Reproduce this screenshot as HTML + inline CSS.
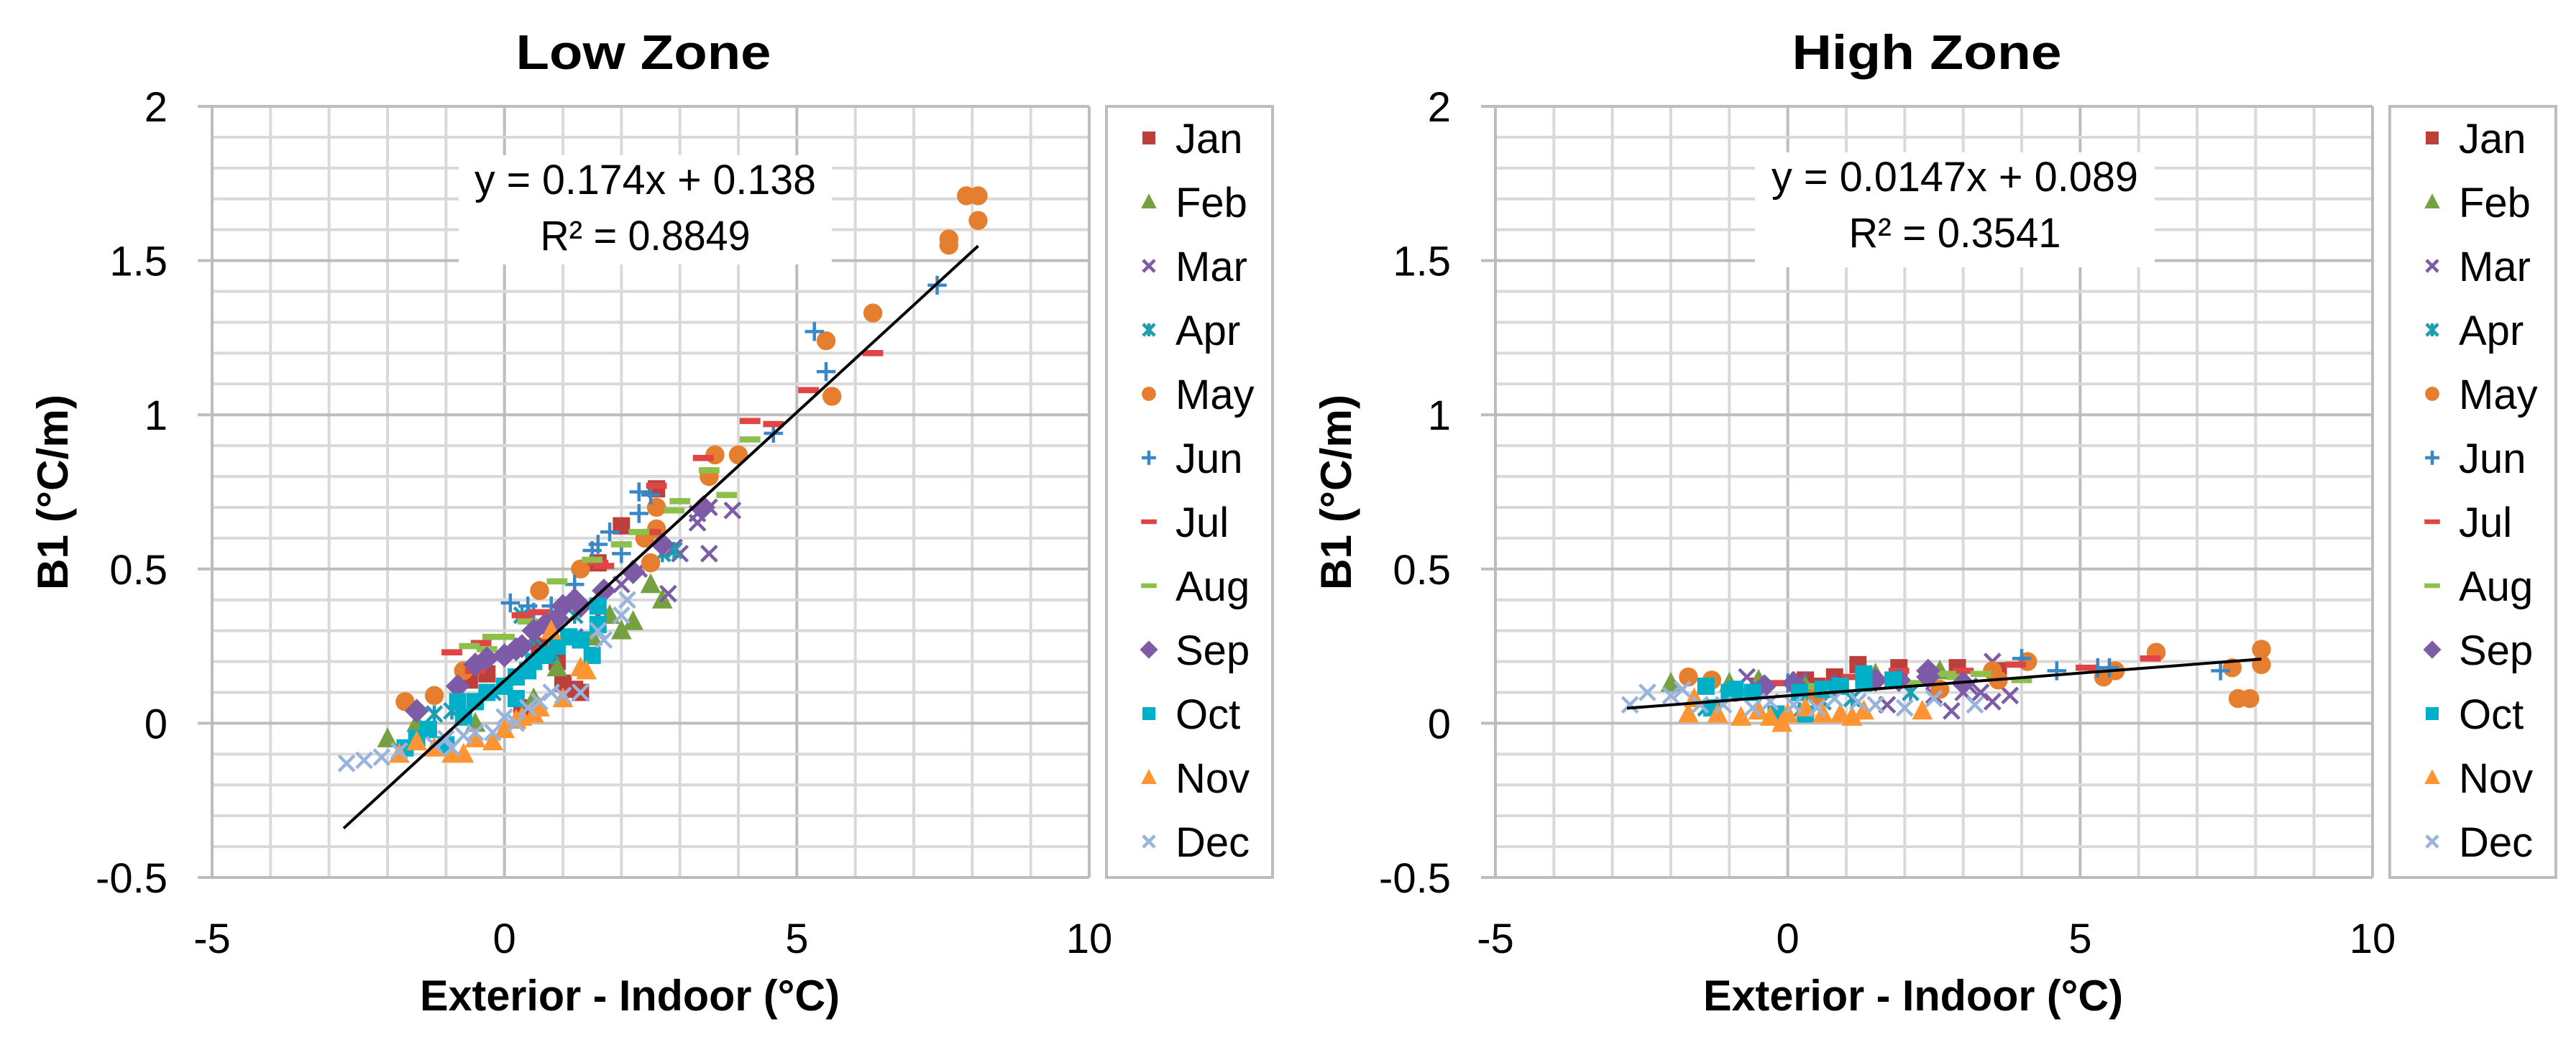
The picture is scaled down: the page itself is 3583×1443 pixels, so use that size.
<!DOCTYPE html>
<html><head><meta charset="utf-8"><style>
html,body{margin:0;padding:0;background:#fff;}
svg{display:block;font-family:"Liberation Sans",sans-serif;}
</style></head><body>
<svg id="fig" width="3583" height="1443" viewBox="0 0 3583 1443" xmlns="http://www.w3.org/2000/svg"></svg>
<script>
const months = ["Jan","Feb","Mar","Apr","May","Jun","Jul","Aug","Sep","Oct","Nov","Dec"];
const xTicks = [-5,0,5,10];
const yTicks = [2,1.5,1,0.5,0,-0.5];
const xTickLabels = ["-5","0","5","10"];
const yTickLabels = ["2","1.5","1","0.5","0","-0.5"];
const lowTrend = [0.174, 0.138];
const highTrend = [0.0147, 0.089];
const trendRange = [-2.75, 8.1];
const lowEq = ["y = 0.174x + 0.138","R² = 0.8849"];
const highEq = ["y = 0.0147x + 0.089","R² = 0.3541"];

const lowJan = [[-0.6,0.14],[0.3,0.05],[1.0,0.13],[1.2,0.11],[1.3,0.10],[0.6,0.25],[1.6,0.52],[2.0,0.64],[2.6,0.76],[0.9,0.20],[-0.3,0.16]];
const lowFeb = [[-2.0,-0.05],[-1.5,0.0],[2.0,0.30],[2.2,0.33],[2.5,0.45],[2.7,0.40],[1.8,0.35],[0.9,0.18],[-0.5,0.0],[1.5,0.28],[0.5,0.08]];
const lowMar = [[2.8,0.42],[3.0,0.55],[3.5,0.55],[3.3,0.65],[3.5,0.70],[3.9,0.69],[2.0,0.45],[2.3,0.50],[1.6,0.35],[3.3,0.68],[2.9,0.57],[1.2,0.28]];
const lowApr = [[-0.9,0.04],[0.3,0.35],[2.7,0.55],[2.9,0.56],[1.2,0.35],[0.5,0.28],[-0.2,0.10],[-1.2,0.03],[0.8,0.23]];
const lowMay = [[-1.7,0.07],[-1.2,0.09],[0.6,0.43],[1.3,0.50],[2.5,0.52],[2.6,0.63],[2.6,0.70],[3.5,0.80],[3.6,0.87],[4.0,0.87],[5.5,1.24],[5.6,1.06],[6.3,1.33],[7.6,1.55],[7.6,1.57],[7.9,1.71],[8.1,1.71],[8.1,1.63],[2.4,0.60],[-0.7,0.17]];
const lowJun = [[0.1,0.39],[0.4,0.38],[1.2,0.45],[1.6,0.58],[1.8,0.62],[2.3,0.75],[2.5,0.74],[2.3,0.68],[0.8,0.38],[4.6,0.94],[5.3,1.27],[5.5,1.14],[7.4,1.42],[2.0,0.55],[1.5,0.56],[0.5,0.36]];
const lowJul = [[-0.9,0.23],[-0.5,0.17],[0.3,0.35],[1.6,0.52],[2.6,0.77],[3.4,0.86],[4.2,0.98],[4.6,0.97],[5.2,1.08],[6.3,1.20],[0.6,0.36],[-0.4,0.26],[1.7,0.51],[2.5,0.62]];
const lowAug = [[-0.6,0.25],[-0.2,0.28],[0.9,0.46],[1.5,0.53],[2.3,0.62],[2.9,0.69],[3.5,0.82],[3.8,0.74],[4.2,0.92],[3.0,0.72],[0.0,0.28],[-0.3,0.24],[2.0,0.58],[0.4,0.33]];
const lowSep = [[-1.5,0.04],[-0.8,0.12],[-0.5,0.19],[0.3,0.25],[0.0,0.22],[0.7,0.32],[1.3,0.38],[1.7,0.43],[2.2,0.49],[2.7,0.58],[3.4,0.70],[1.0,0.38],[0.2,0.24],[1.2,0.40],[-0.3,0.21],[0.5,0.30],[0.9,0.34]];
const lowOct = [[-1.7,-0.08],[-1.3,-0.02],[-0.8,0.07],[-0.5,0.07],[0.0,0.12],[0.2,0.15],[0.5,0.20],[0.9,0.25],[1.1,0.28],[1.6,0.32],[1.6,0.38],[0.2,0.08],[-1.0,-0.07],[-1.5,-0.05],[-0.3,0.10],[0.7,0.22],[1.3,0.27],[1.5,0.22],[0.4,0.17],[-0.7,0.02]];
const lowNov = [[-1.8,-0.10],[-1.2,-0.08],[-0.9,-0.10],[-0.5,-0.05],[0.0,-0.02],[0.3,0.02],[0.6,0.05],[1.0,0.08],[1.3,0.18],[-0.2,-0.06],[0.8,0.30],[-1.5,-0.06],[-0.7,-0.10],[0.5,0.03],[1.4,0.17],[0.2,0.01]];
const lowDec = [[-2.7,-0.13],[-2.4,-0.12],[-2.1,-0.11],[-1.8,-0.09],[-1.2,-0.07],[-0.9,-0.08],[-0.2,-0.03],[0.2,0.00],[0.6,0.07],[1.0,0.09],[1.3,0.10],[1.7,0.27],[2.0,0.35],[2.1,0.40],[0.4,0.05],[-0.5,-0.03],[-1.0,-0.05],[0.0,0.02],[0.8,0.10],[1.6,0.30],[-0.7,-0.04]];

const highJan = [[-0.5,0.12],[0.3,0.14],[1.2,0.19],[0.8,0.15],[1.9,0.18],[2.9,0.18],[3.6,0.17],[0.5,0.12]];
const highFeb = [[-2.0,0.13],[-0.5,0.14],[1.5,0.16],[2.6,0.17],[0.3,0.12],[-1.0,0.13]];
const highMar = [[-0.7,0.15],[2.8,0.04],[3.3,0.10],[3.5,0.20],[3.1,0.12],[3.8,0.09],[3.5,0.07],[1.7,0.06],[2.5,0.09],[3.0,0.10],[0.2,0.14]];
const highApr = [[0.2,0.04],[-1.4,0.05],[1.1,0.08],[2.1,0.10],[0.6,0.07]];
const highMay = [[-1.7,0.15],[-1.3,0.14],[0.5,0.09],[2.6,0.11],[3.6,0.14],[3.5,0.17],[4.1,0.20],[5.4,0.15],[5.6,0.17],[6.3,0.23],[7.6,0.18],[7.7,0.08],[7.9,0.08],[8.1,0.24],[8.1,0.19],[-0.9,0.10]];
const highJun = [[0.0,0.13],[4.0,0.21],[4.6,0.17],[5.3,0.18],[5.5,0.18],[7.4,0.17]];
const highJul = [[-0.2,0.13],[1.9,0.17],[3.0,0.17],[3.9,0.19],[5.1,0.18],[6.2,0.21],[1.1,0.15],[0.8,0.13]];
const highAug = [[0.5,0.12],[1.6,0.14],[2.7,0.16],[3.3,0.16],[4.0,0.14],[2.2,0.13],[2.9,0.15]];
const highSep = [[0.1,0.13],[1.5,0.14],[2.4,0.17],[2.4,0.15],[3.0,0.13],[-0.4,0.12],[0.8,0.12],[1.9,0.14]];
const highOct = [[-1.4,0.12],[-1.0,0.10],[-0.6,0.10],[0.2,0.10],[0.6,0.11],[1.3,0.16],[1.8,0.14],[-1.3,0.05],[-0.2,0.03],[0.3,0.03],[-0.9,0.11],[0.9,0.12],[1.3,0.13]];
const highNov = [[-1.7,0.03],[-1.2,0.03],[-0.8,0.02],[-0.3,0.02],[-0.1,0.00],[0.6,0.03],[1.3,0.04],[0.9,0.03],[2.3,0.04],[0.0,0.03],[-1.6,0.08],[-0.5,0.04],[0.3,0.05],[1.1,0.02]];
const highDec = [[-2.7,0.06],[-2.4,0.10],[-2.0,0.09],[-1.5,0.06],[-1.1,0.06],[-0.6,0.05],[0.1,0.06],[0.8,0.08],[1.5,0.06],[2.0,0.05],[3.2,0.06],[-1.8,0.11],[-0.3,0.07],[0.5,0.05],[1.2,0.07],[2.5,0.08]];

const lowSeries = [lowJan,lowFeb,lowMar,lowApr,lowMay,lowJun,lowJul,lowAug,lowSep,lowOct,lowNov,lowDec];
const highSeries = [highJan,highFeb,highMar,highApr,highMay,highJun,highJul,highAug,highSep,highOct,highNov,highDec];

const colors = ["#bc3f3c","#77a043","#7d5ba6","#1e9cb3","#e67e30","#3a87c8","#e04545","#8cc04b","#7d5ba6","#00b0c8","#ff9433","#98b4dd"];
const shapes = ["square","triangle","x","star","circle","plus","dash","dash","diamond","square","triangle","x"];

const NS = "http://www.w3.org/2000/svg";
const svg = document.getElementById("fig");
function mk(tag, attrs, parent){
  const e = document.createElementNS(NS, tag);
  for (const k in attrs) e.setAttribute(k, attrs[k]);
  (parent||svg).appendChild(e);
  return e;
}
function marker(g, shape, cx, cy, color, s){
  let e;
  if (shape==="square") e = mk("rect",{x:cx-s*0.5,y:cy-s*0.5,width:s,height:s,fill:color},g);
  else if (shape==="triangle") e = mk("polygon",{points:`${cx},${cy-s*0.65} ${cx-s*0.6},${cy+s*0.5} ${cx+s*0.6},${cy+s*0.5}`,fill:color},g);
  else if (shape==="circle") e = mk("circle",{cx:cx,cy:cy,r:s*0.55,fill:color},g);
  else if (shape==="diamond") e = mk("polygon",{points:`${cx},${cy-s*0.7} ${cx+s*0.7},${cy} ${cx},${cy+s*0.7} ${cx-s*0.7},${cy}`,fill:color},g);
  else if (shape==="dash") e = mk("rect",{x:cx-s*0.6,y:cy-s*0.18,width:s*1.2,height:s*0.36,fill:color},g);
  else if (shape==="plus") e = mk("path",{d:`M${cx-s*0.55},${cy}H${cx+s*0.55}M${cx},${cy-s*0.55}V${cy+s*0.55}`,stroke:color,"stroke-width":4.5,fill:"none"},g);
  else if (shape==="x") e = mk("path",{d:`M${cx-s*0.45},${cy-s*0.45}L${cx+s*0.45},${cy+s*0.45}M${cx+s*0.45},${cy-s*0.45}L${cx-s*0.45},${cy+s*0.45}`,stroke:color,"stroke-width":4.5,fill:"none"},g);
  else if (shape==="star") e = mk("path",{d:`M${cx-s*0.45},${cy-s*0.45}L${cx+s*0.45},${cy+s*0.45}M${cx+s*0.45},${cy-s*0.45}L${cx-s*0.45},${cy+s*0.45}M${cx},${cy-s*0.5}V${cy+s*0.5}`,stroke:color,"stroke-width":4.5,fill:"none"},g);
  return e;
}

function drawChart(ox, title, series, trend, eq, eqBox, key){
  const L = 295+ox, R = 1515+ox, T = 148, B = 1221;
  const sx = v => L + (v+5)*(R-L)/15;
  const sy = v => T + (2-v)*(B-T)/2.5;
  const g = mk("g",{});
  
  
  for (let i=-5;i<=10;i++){
    const major = (i%5===0);
    const ln = mk("line",{x1:sx(i),x2:sx(i),y1:T,y2:B,stroke:major?"#bdbdbd":"#d9d9d9","stroke-width":4},g);
    
    
  }
  for (let j=-5;j<=20;j++){
    const v = j/10, major = (j%5===0);
    const ln = mk("line",{x1:major?L-20:L,x2:R,y1:sy(v),y2:sy(v),stroke:major?"#bdbdbd":"#d9d9d9","stroke-width":4},g);
    
    
  }
  mk("line",{x1:L,x2:L,y1:T,y2:B,stroke:"#bdbdbd","stroke-width":4},g);
  mk("line",{x1:R,x2:R,y1:T,y2:B,stroke:"#bdbdbd","stroke-width":4},g);
  yTicks.forEach((v,i)=>{
    const t = mk("text",{x:L-62,y:sy(v)+21,"font-size":58,"text-anchor":"end",fill:"#000"},g);
    t.textContent = yTickLabels[i];
    
    
  });
  xTicks.forEach((v,i)=>{
    const t = mk("text",{x:sx(v),y:1326,"font-size":58,"text-anchor":"middle",fill:"#000"},g);
    t.textContent = xTickLabels[i];
    
    
  });
  series.forEach((pts,m)=>{
    const sg = mk("g",{},g);
    
    
    pts.forEach(p=>{
      const e = marker(sg, shapes[m], sx(p[0]), sy(p[1]), colors[m], 24);
      
      
    });
  });
  const tl = mk("line",{x1:sx(trendRange[0]),y1:sy(trend[0]*trendRange[0]+trend[1]),x2:sx(trendRange[1]),y2:sy(trend[0]*trendRange[1]+trend[1]),stroke:"#000","stroke-width":4},g);
  
  
  const eb = mk("rect",{x:eqBox[0]+ox,y:eqBox[1],width:eqBox[2],height:eqBox[3],fill:"#fff"},g);
  
  
  const cx = eqBox[0]+ox+eqBox[2]/2;
  const e1 = mk("text",{x:cx,y:eqBox[1]+54,"font-size":58,"text-anchor":"middle",textLength:eqBox[4],lengthAdjust:"spacingAndGlyphs"},g);
  e1.textContent = eq[0];
  
  
  const e2 = mk("text",{x:cx,y:eqBox[1]+132,"font-size":58,"text-anchor":"middle",textLength:eqBox[5],lengthAdjust:"spacingAndGlyphs"},g);
  e2.textContent = eq[1];
  
  
  const tt = mk("text",{x:(L+R)/2-10,y:96,"font-size":68,"font-weight":"bold","text-anchor":"middle",textLength:key==="low"?355:375,lengthAdjust:"spacingAndGlyphs"},g);
  tt.textContent = title;
  
  
  const xt = mk("text",{x:L+581,y:1406,"font-size":60,"font-weight":"bold","text-anchor":"middle",textLength:584,lengthAdjust:"spacingAndGlyphs"},g);
  xt.textContent = "Exterior - Indoor (°C)";
  
  
  const yt = mk("text",{x:0,y:0,"font-size":60,"font-weight":"bold","text-anchor":"middle",textLength:272,lengthAdjust:"spacingAndGlyphs",transform:`translate(${L-201},685) rotate(-90)`},g);
  yt.textContent = "B1 (°C/m)";
  
  
  const lg = mk("g",{},g);
  
  
  mk("rect",{x:R+24,y:T,width:231,height:B-T,fill:"#fff",stroke:"#bdbdbd","stroke-width":4},lg);
  months.forEach((m,i)=>{
    const y = 192 + i*89;
    const it = mk("g",{},lg);
    
    
    marker(it, shapes[i], R+83, y, colors[i], 18);
    const t = mk("text",{x:R+120,y:y+21,"font-size":58,fill:"#000"},it);
    t.textContent = m;
  });
}

drawChart(0, "Low Zone", lowSeries, lowTrend, lowEq, [638,216,519,152,475,292], "low");
drawChart(1785, "High Zone", highSeries, highTrend, highEq, [656,212,556,160,510,295], "high");
</script>
</body></html>
